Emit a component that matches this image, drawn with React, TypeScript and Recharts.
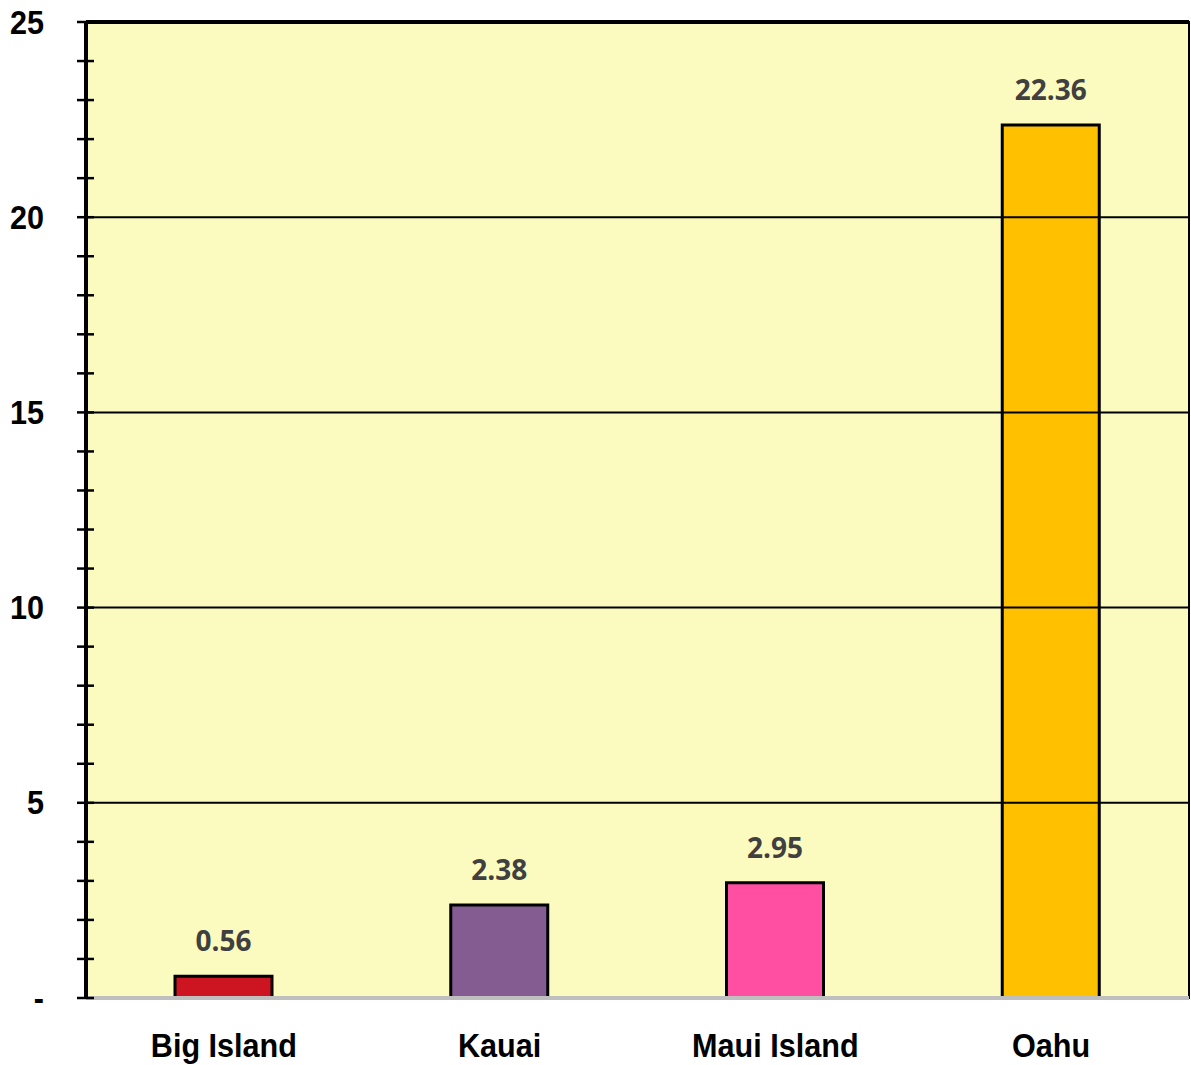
import React from "react";
import { BarChart, Bar, XAxis, YAxis, ReferenceLine, ReferenceArea, LabelList, Cell } from "recharts";

const islands = ["Big Island", "Kauai", "Maui Island", "Oahu"];
const values = [0.56, 2.38, 2.95, 22.36];
const barColors = ["#CC1520", "#855C91", "#FF4FA3", "#FFC000"];
const yTicks = [0,1,2,3,4,5,6,7,8,9,10,11,12,13,14,15,16,17,18,19,20,21,22,23,24,25];
const majorTicks = [0, 5, 10, 15, 20, 25];
const gridValues = [5, 10, 15, 20];

const data = islands.map((name, i) => ({ name, value: values[i] }));

const FONT = "'Liberation Sans', Arial, sans-serif";

const YTick = (props: any) => {
  const { y, payload } = props;
  const v = payload.value;
  const axisX = 86;
  const major = majorTicks.includes(v);
  return (
    <g>
      <line x1={axisX - 9} x2={axisX + 8} y1={y} y2={y} stroke="#000" strokeWidth={2.5} />
      {major && (
        <text transform={`translate(44, ${y}) scale(0.9, 1)`} x={0} y={0} textAnchor="end" dominantBaseline="central" fontFamily={FONT} fontWeight="bold" fontSize={34} fill="#000">
          {v === 0 ? "-" : v}
        </text>
      )}
    </g>
  );
};

const XTick = (props: any) => {
  const { x, payload } = props;
  return (
    <text transform={`translate(${x}, 1057) scale(0.9, 1)`} x={0} y={0} textAnchor="middle" fontFamily={FONT} fontWeight="bold" fontSize={34} fill="#000">
      {payload.value}
    </text>
  );
};

export default function App() {
  return (
    <div style={{ position: "absolute", left: 0, top: 0, width: 1191, height: 1065, background: "#fff" }}>
      <BarChart width={1191} height={1065} data={data} margin={{ top: 22, right: 2, left: 0, bottom: 0 }} barSize={97}>
        <ReferenceArea y1={0} y2={25} fill="#FBFBC0" fillOpacity={1} stroke="#000" strokeWidth={2} ifOverflow="visible" />
        {gridValues.map((g) => (
          <ReferenceLine key={g} y={g} stroke="#000" strokeWidth={2} />
        ))}
        <XAxis dataKey="name" height={67} axisLine={{ stroke: "#BFBFBF", strokeWidth: 4 }} tickLine={false} tick={<XTick />} interval={0} />
        <YAxis domain={[0, 25]} ticks={yTicks} width={86} interval={0} axisLine={{ stroke: "#000", strokeWidth: 4 }} tickLine={false} tick={<YTick />} />
        <ReferenceLine y={25} stroke="#000" strokeWidth={4} />
        <Bar dataKey="value" stroke="#000" strokeWidth={3} isAnimationActive={false}>
          {data.map((d, i) => (
            <Cell key={d.name} fill={barColors[i]} />
          ))}
          <LabelList dataKey="value" position="top" offset={25} fill="#404040" fontFamily="'Open Sans', sans-serif" fontWeight="bold" fontSize={28} formatter={(v: any) => Number(v).toFixed(2)} />
        </Bar>
      </BarChart>
    </div>
  );
}
